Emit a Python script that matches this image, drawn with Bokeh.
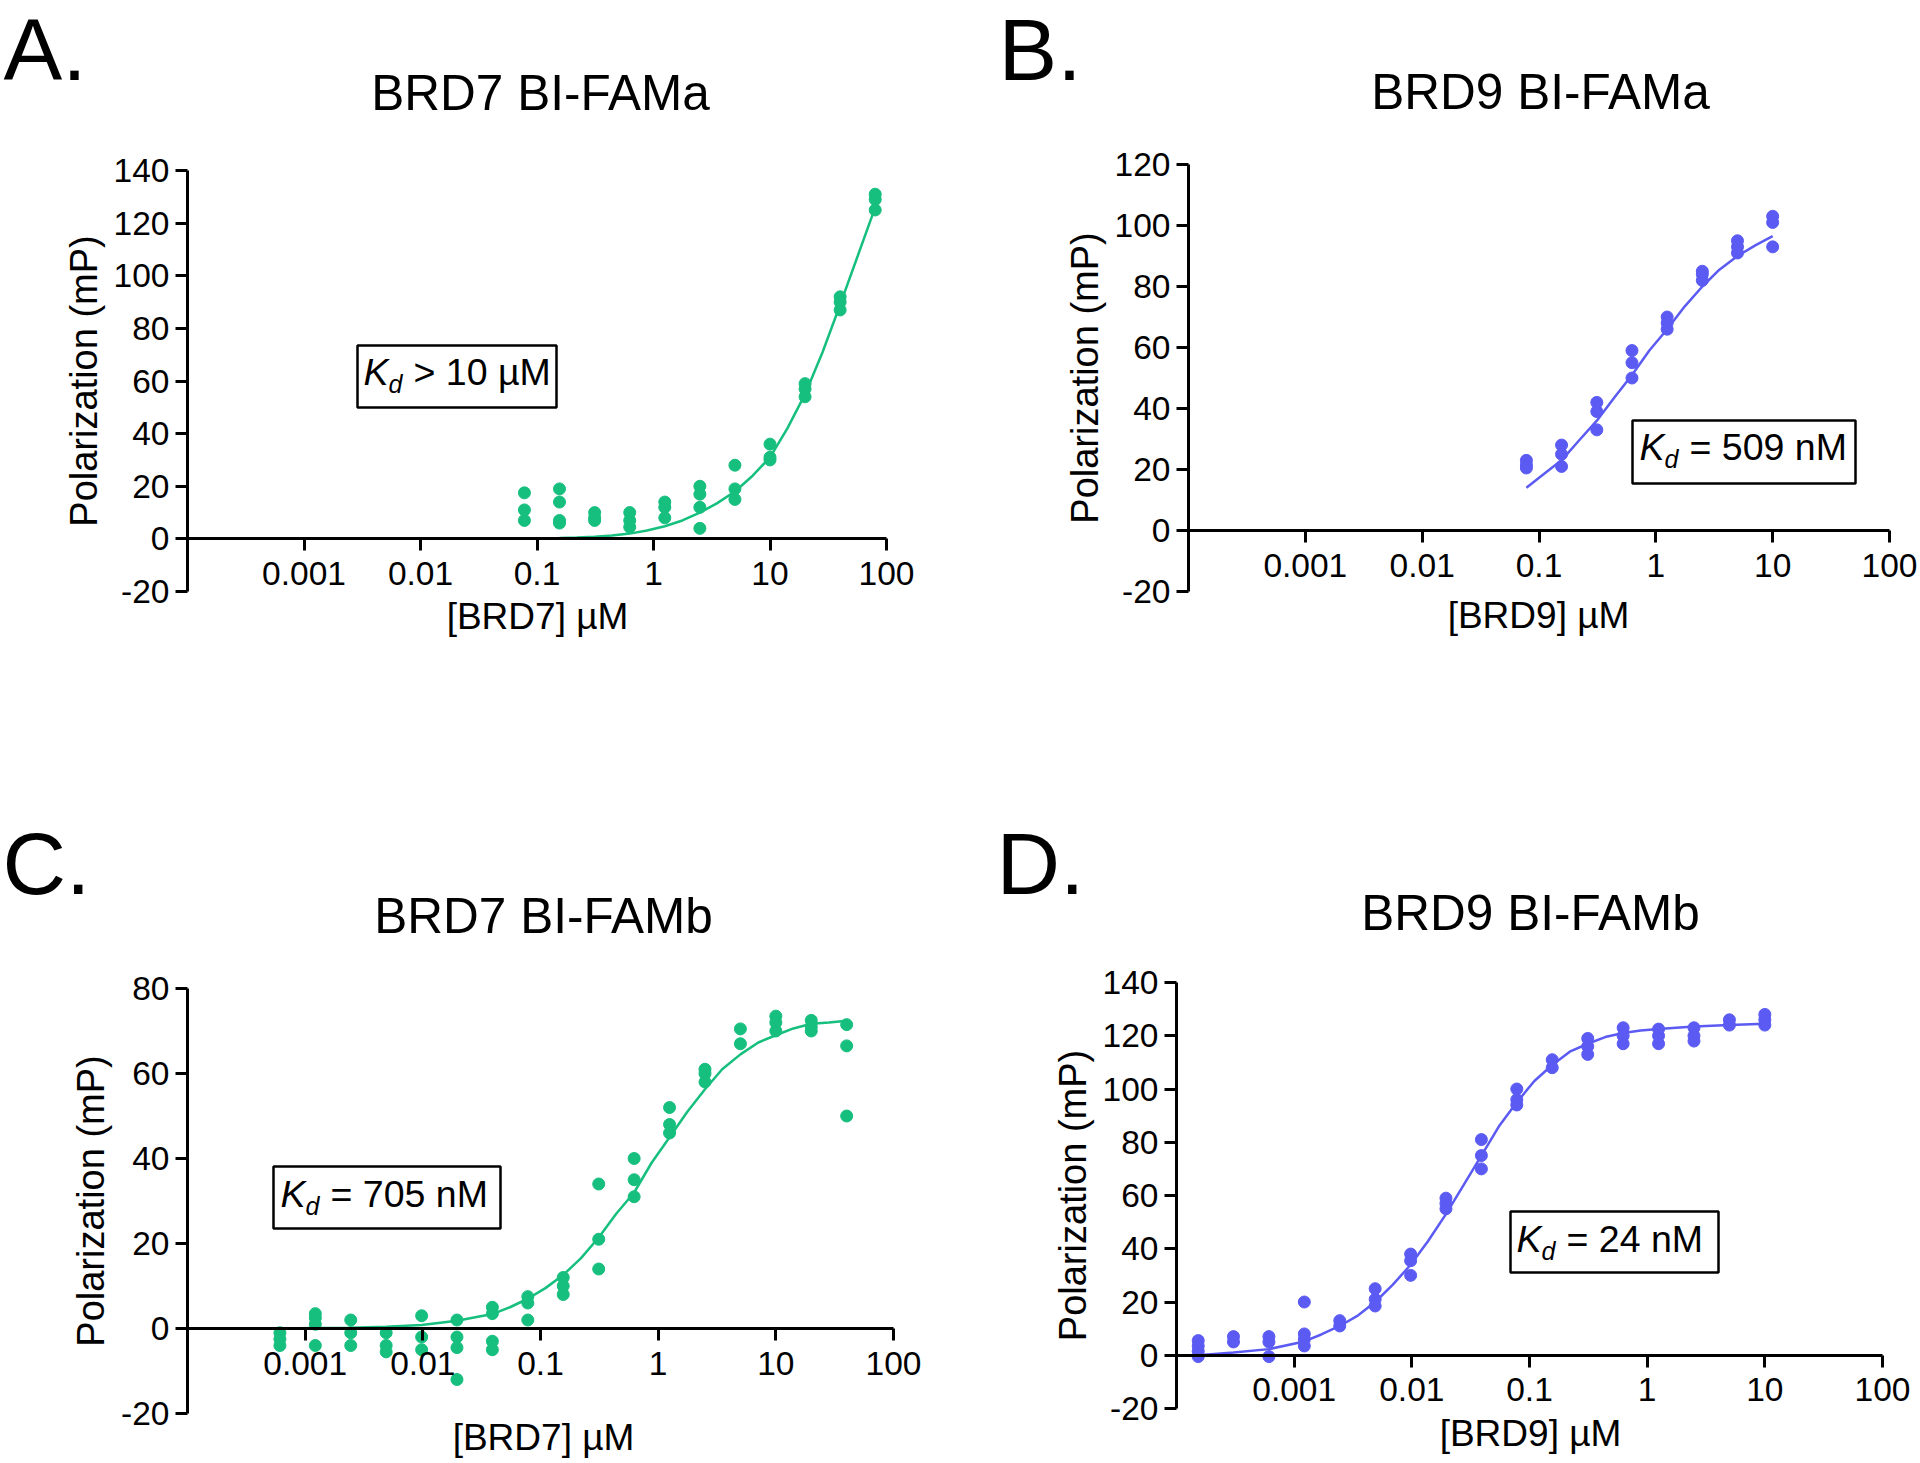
import math
from bokeh.plotting import figure
from bokeh.models import Range1d, FixedTicker, Label, BoxAnnotation, ColumnDataSource
from bokeh.layouts import column, row
from bokeh.embed import file_html
from bokeh.resources import INLINE

FONT = "Liberation Sans"
GREEN = "#16BF7E"
BLUE = "#5B5BF3"

# ---------------- data ----------------
x_ticks = [0.001, 0.01, 0.1, 1, 10, 100]
x_tick_labels = ["0.001", "0.01", "0.1", "1", "10", "100"]

A_yticks = [-20, 0, 20, 40, 60, 80, 100, 120, 140]
A_ytick_labels = ["-20", "0", "20", "40", "60", "80", "100", "120", "140"]
B_yticks = [-20, 0, 20, 40, 60, 80, 100, 120]
B_ytick_labels = ["-20", "0", "20", "40", "60", "80", "100", "120"]
C_yticks = [-20, 0, 20, 40, 60, 80]
C_ytick_labels = ["-20", "0", "20", "40", "60", "80"]
D_yticks = [-20, 0, 20, 40, 60, 80, 100, 120, 140]
D_ytick_labels = ["-20", "0", "20", "40", "60", "80", "100", "120", "140"]

A_conc = [0.078, 0.156, 0.3125, 0.625, 1.25, 2.5, 5, 10, 20, 40, 80]
A_values = [[17.5, 11, 7], [19, 14, 7, 6], [10, 8, 7], [10, 7, 4.5], [14, 12, 8],
            [20, 17, 12, 4], [28, 19, 15], [36, 31, 30], [59, 57, 54], [92, 90, 87],
            [131, 129, 125]]
A_fit_x = [0.078, 0.11, 0.156, 0.22, 0.3125, 0.44, 0.625, 0.88, 1.25, 1.77, 2.5, 3.5,
           5, 7.1, 10, 14.1, 20, 28.3, 40, 56.6, 80]
A_fit_y = [0, 0.15, 0.3, 0.5, 0.8, 1.3, 2, 3.2, 4.8, 7, 10, 13.5, 18, 24, 31, 42, 55,
           71, 89, 107.5, 126]

B_conc = [0.078, 0.156, 0.3125, 0.625, 1.25, 2.5, 5, 10]
B_values = [[23, 21.5, 20.5], [28, 25, 21], [42, 39, 33], [59, 55, 50], [70, 68, 66],
            [85, 84, 82], [95, 93, 91], [103, 101, 93]]
B_fit_x = [0.078, 0.11, 0.156, 0.22, 0.3125, 0.44, 0.625, 0.88, 1.25, 1.77, 2.5, 3.5,
           5, 7.1, 10]
B_fit_y = [14, 18.5, 23, 29.5, 36, 43.5, 51, 59, 66, 73.5, 80, 85.5, 90, 93.5, 96.5]

C_conc = [0.00061, 0.00122, 0.00244, 0.00488, 0.00977, 0.0195, 0.039, 0.078, 0.156,
          0.3125, 0.625, 1.25, 2.5, 5, 10, 20, 40]
C_values = [[-1, -2.5, -4], [3.5, 2.5, 1, -4], [2, -1, -4], [-1, -4, -5.5], [3, -2, -5],
            [2, -2, -4.5, -12], [5, 3.5, -3, -5], [7.5, 6, 2], [12, 10, 8], [34, 21, 14],
            [40, 35, 31], [52, 48, 46], [61, 60, 58], [70.5, 67], [73.5, 72, 70],
            [72.5, 71, 70], [71.5, 66.5, 50]]
C_fit_x = [0.00061, 0.00122, 0.00244, 0.00488, 0.00977, 0.0195, 0.039, 0.055, 0.078,
           0.11, 0.156, 0.22, 0.3125, 0.44, 0.625, 0.88, 1.25, 1.77, 2.5, 3.5, 5, 7.1,
           10, 14.1, 20, 28.3, 40]
C_fit_y = [0, 0.1, 0.2, 0.4, 0.8, 1.8, 3.4, 5, 7, 9.5, 12.6, 16.5, 21.4, 27, 32, 39, 45,
           51, 56.3, 61, 64.5, 67.3, 69, 70.6, 71.7, 72, 72.4]

D_conc = [0.000153, 0.000305, 0.00061, 0.00122, 0.00244, 0.00488, 0.00977, 0.0195, 0.039,
          0.078, 0.156, 0.3125, 0.625, 1.25, 2.5, 5, 10]
D_values = [[5.5, 3.5, 1.5, -0.5], [7, 5], [7, 5, -0.5], [20, 8, 6, 3.5], [13, 11],
            [25, 21, 18.5], [38, 35.5, 30], [59, 57, 55], [81, 75, 70], [100, 96, 94],
            [111, 108], [119, 116, 113], [123, 120, 117], [122.5, 120, 117], [123, 120, 118],
            [126, 124], [128, 126, 124]]
D_fit_x = [0.000153, 0.000305, 0.00061, 0.00122, 0.0017, 0.00244, 0.0035, 0.00488,
           0.0069, 0.00977, 0.0138, 0.0195, 0.0276, 0.039, 0.055, 0.078, 0.11, 0.156,
           0.22, 0.3125, 0.44, 0.625, 0.88, 1.25, 2.5, 5, 10]
D_fit_y = [0, 1, 2.3, 5.2, 7.8, 11, 15, 20, 26.5, 34, 43, 53, 64, 75, 86, 95, 103, 109,
           114, 117, 119.5, 121, 122, 122.5, 123.5, 124, 124.5]

letters = ["A.", "B.", "C.", "D."]
titles = ["BRD7 BI-FAMa", "BRD9 BI-FAMa", "BRD7 BI-FAMb", "BRD9 BI-FAMb"]
x_labels = ["[BRD7] µM", "[BRD9] µM", "[BRD7] µM", "[BRD9] µM"]
y_label = "Polarization (mP)"
kd_texts = ["> 10 µM", "= 509 nM", "= 705 nM", "= 24 nM"]

# ---------------- layout (absolute page pixels) ----------------
# axis: x 1e-4 at L, 100 at R ; y low at B, y high at T
layout = [
    dict(origin=(0, 0), size=(960, 728), frame=(187, 170, 886, 591), yr=(-20, 140),
         letter=(3, 82), title=(540, 110), xlabel=(537, 630),
         box=(357, 345, 556, 407), k=(363, 385)),
    dict(origin=(960, 0), size=(960, 728), frame=(1188, 164, 1889, 591), yr=(-20, 120),
         letter=(998, 82), title=(1540, 109), xlabel=(1538, 629),
         box=(1632, 420, 1855, 483), k=(1639, 460)),
    dict(origin=(0, 728), size=(960, 735), frame=(187, 988, 893, 1413), yr=(-20, 80),
         letter=(2, 896), title=(543, 933), xlabel=(543, 1451),
         box=(273, 1166, 500, 1228), k=(280, 1207)),
    dict(origin=(960, 728), size=(960, 735), frame=(1176, 982, 1882, 1408), yr=(-20, 140),
         letter=(996, 896), title=(1530, 930), xlabel=(1530, 1447),
         box=(1510, 1211, 1718, 1272), k=(1516, 1252)),
]

XS, XE = 1e-4, 100
LXS, LXE = math.log10(XS), math.log10(XE)
BASELINE_SHIFT = 0.37  # em: rendered baseline falls this far below the anchor


def to_data(g, X, Y):
    L, T, R, B = g["frame"]
    ys, ye = g["yr"]
    lx = LXS + (X - L) / (R - L) * (LXE - LXS)
    y = ys + (B - Y) / (B - T) * (ye - ys)
    return 10 ** lx, y


def add_label(p, g, X, Y, text, size, style="normal", align="left"):
    x, y = to_data(g, X, Y - BASELINE_SHIFT * size)
    p.add_layout(Label(x=x, y=y, text=text, text_font=FONT, text_font_size=f"{size}px",
                       text_font_style=style, text_align=align,
                       text_baseline="alphabetic", text_color="black"))


def make_panel(i, conc, values, fit_x, fit_y, yticks, ytick_labels, color):
    g = layout[i]
    ox, oy = g["origin"]
    W, H = g["size"]
    # ranges spanning the whole canvas, so every text lies inside the frame
    x0, y_top = to_data(g, ox, oy)
    x1, y_bot = to_data(g, ox + W, oy + H)
    p = figure(width=W, height=H, x_axis_type="log",
               x_range=Range1d(x0, x1), y_range=Range1d(y_bot, y_top),
               output_backend="svg", toolbar_location=None, title=None,
               min_border=0, min_border_left=0, min_border_right=0,
               min_border_top=0, min_border_bottom=0)
    p.outline_line_color = None
    p.grid.visible = False
    p.background_fill_color = "white"
    p.border_fill_color = "white"

    xa = p.xaxis[0]
    xa.fixed_location = 0
    xa.bounds = (XS, XE)
    xa.ticker = FixedTicker(ticks=x_ticks)
    xa.major_label_overrides = dict(zip(x_ticks, x_tick_labels))
    ya = p.yaxis[0]
    ya.fixed_location = XS
    ya.bounds = (g["yr"][0], g["yr"][1])
    ya.ticker = FixedTicker(ticks=yticks)
    ya.major_label_overrides = dict(zip(yticks, ytick_labels))
    ya.axis_label = y_label
    ya.axis_label_text_font = FONT
    ya.axis_label_text_font_size = "38px"
    ya.axis_label_text_font_style = "normal"
    ya.axis_label_text_color = "black"
    ya.axis_label_standoff = 6
    for ax in (xa, ya):
        ax.axis_line_width = 3
        ax.axis_line_color = "black"
        ax.major_tick_line_width = 3
        ax.major_tick_line_color = "black"
        ax.major_tick_in = 0
        ax.major_tick_out = 12
        ax.minor_tick_line_color = None
        ax.major_label_text_font = FONT
        ax.major_label_text_font_size = "33.5px"
        ax.major_label_text_color = "black"
    xa.major_label_standoff = 11
    ya.major_label_standoff = 6

    xs = [c for c, vals in zip(conc, values) for v in vals]
    ys = [v for c, vals in zip(conc, values) for v in vals]
    p.line(x=fit_x, y=fit_y, line_color=color, line_width=2.5)
    p.scatter(x="x", y="y", source=ColumnDataSource(dict(x=xs, y=ys)),
              size=12, fill_color=color, line_color=color)

    # texts
    add_label(p, g, g["letter"][0], g["letter"][1], letters[i], 88)
    add_label(p, g, g["title"][0], g["title"][1], titles[i], 49.5, align="center")
    add_label(p, g, g["xlabel"][0], g["xlabel"][1], x_labels[i], 37, align="center")

    bl, bt, br, bb = g["box"]
    bx0, by0 = to_data(g, bl, bb)
    bx1, by1 = to_data(g, br, bt)
    p.add_layout(BoxAnnotation(left=bx0, right=bx1, bottom=by0, top=by1,
                               fill_color="white", fill_alpha=1.0,
                               line_color="black", line_alpha=1.0, line_width=2.5))
    kx, ky = g["k"]
    add_label(p, g, kx, ky, "K", 37.5, style="italic")
    add_label(p, g, kx + 25, ky + 8, "d", 25, style="italic")
    add_label(p, g, kx + 50, ky, kd_texts[i], 37.5)
    return p


pA = make_panel(0, A_conc, A_values, A_fit_x, A_fit_y, A_yticks, A_ytick_labels, GREEN)
pB = make_panel(1, B_conc, B_values, B_fit_x, B_fit_y, B_yticks, B_ytick_labels, BLUE)
pC = make_panel(2, C_conc, C_values, C_fit_x, C_fit_y, C_yticks, C_ytick_labels, GREEN)
pD = make_panel(3, D_conc, D_values, D_fit_x, D_fit_y, D_yticks, D_ytick_labels, BLUE)

root = column(row(pA, pB), row(pC, pD))
open("out.html", "w").write(file_html(root, INLINE))
